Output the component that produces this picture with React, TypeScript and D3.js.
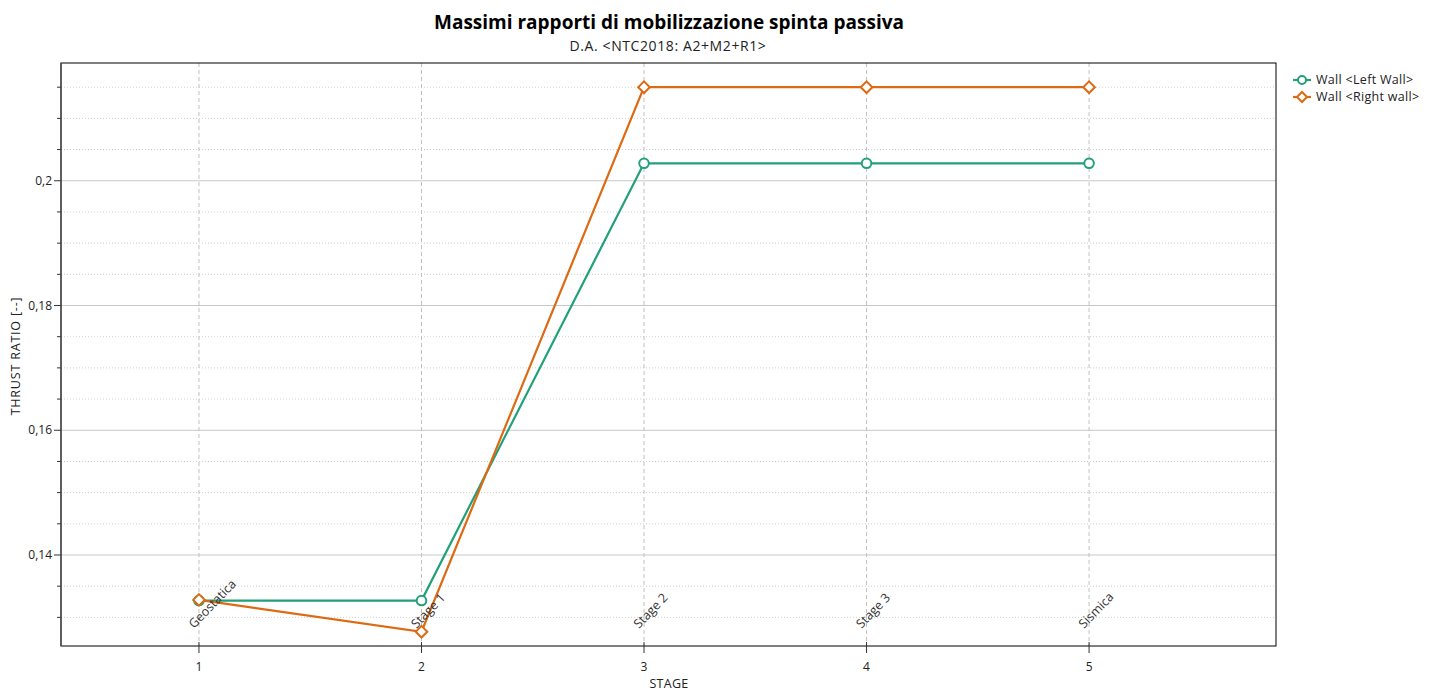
import React from "react";
import * as d3 from "d3";

const xValues = [1, 2, 3, 4, 5];
const stageLabels = ["Geostatica", "Stage 1", "Stage 2", "Stage 3", "Sismica"];
const leftWall = [0.1327, 0.1327, 0.2028, 0.2028, 0.2028];
const rightWall = [0.1328, 0.1277, 0.215, 0.215, 0.215];
const yMajorTicks = [0.14, 0.16, 0.18, 0.2];
const yMinorTicks = [0.13, 0.135, 0.145, 0.15, 0.155, 0.165, 0.17, 0.175, 0.185, 0.19, 0.195, 0.205, 0.21, 0.215];
const seriesNames = ["Wall <Left Wall>", "Wall <Right wall>"];
const colors = ["#22a07a", "#dd6a12"];

const W = 1434, H = 691;
const L = 61, R = 1276, T = 63, B = 646;
const FONT = "'Segoe UI', 'Open Sans', 'Noto Sans', sans-serif";

export default function App() {
  const x = d3.scaleLinear().domain([0.38, 5.84]).range([L, R]);
  const y = d3.scaleLinear().domain([0.12541, 0.21888]).range([B, T]);
  const line = d3.line<number>().x((_, i) => x(xValues[i])).y((d) => y(d));
  const series = [leftWall, rightWall];
  const diamond = (cx: number, cy: number, r: number) =>
    `M${cx},${cy - r}L${cx + r},${cy}L${cx},${cy + r}L${cx - r},${cy}Z`;

  return (
    <svg width={W} height={H} style={{ position: "absolute", left: 0, top: 0, background: "#fff" }} fontFamily={FONT}>
      <rect x={0} y={0} width={W} height={H} fill="#fff" />
      <text x={669} y={29} textAnchor="middle" fontSize={19} fontWeight="bold" fill="#000">
        Massimi rapporti di mobilizzazione spinta passiva
      </text>
      <text x={668} y={51} textAnchor="middle" fontSize={14} letterSpacing={0.6} fill="#222">
        D.A. &lt;NTC2018: A2+M2+R1&gt;
      </text>

      {/* minor grid */}
      {yMinorTicks.map((v) => (
        <line key={"mg" + v} x1={L} x2={R} y1={y(v)} y2={y(v)} stroke="#d0d0d0" strokeDasharray="1,2" />
      ))}
      {yMajorTicks.map((v) => (
        <line key={"g" + v} x1={L} x2={R} y1={y(v)} y2={y(v)} stroke="#c8c8c8" strokeWidth={1} />
      ))}
      {xValues.map((v) => (
        <line key={"vg" + v} x1={x(v)} x2={x(v)} y1={T} y2={B} stroke="#c0c0c0" strokeDasharray="4,3" />
      ))}

      {/* frame */}
      <rect x={L} y={T} width={R - L} height={B - T} fill="none" stroke="#000" strokeWidth={1} />
      <line x1={L} x2={L} y1={T} y2={B} stroke="#555" strokeWidth={1.5} />

      {/* y ticks */}
      {yMajorTicks.map((v) => (
        <g key={"yt" + v}>
          <line x1={L - 7} x2={L} y1={y(v)} y2={y(v)} stroke="#333" />
          <text x={L - 9} y={y(v)} dy="0.35em" textAnchor="end" fontSize={12} fill="#222">
            {String(v).replace(".", ",")}
          </text>
        </g>
      ))}
      {yMinorTicks.map((v) => (
        <line key={"ym" + v} x1={L - 4} x2={L} y1={y(v)} y2={y(v)} stroke="#333" />
      ))}

      {/* x ticks */}
      {xValues.map((v) => (
        <g key={"xt" + v}>
          <line x1={x(v)} x2={x(v)} y1={B - 4} y2={B + 7} stroke="#333" />
          <text x={x(v)} y={B + 25} textAnchor="middle" fontSize={12} fill="#222">
            {v}
          </text>
        </g>
      ))}

      <text x={669} y={688} textAnchor="middle" fontSize={12.5} letterSpacing={0.3} fill="#222">STAGE</text>
      <text transform={`translate(20,${356}) rotate(-90)`} textAnchor="middle" fontSize={12.5} letterSpacing={0.8} fill="#222">
        THRUST RATIO [--]
      </text>

      {/* series */}
      {series.map((s, si) => (
        <path key={"l" + si} d={line(s) || ""} fill="none" stroke={colors[si]} strokeWidth={2.2} />
      ))}
      {leftWall.map((v, i) => (
        <circle key={"c" + i} cx={x(xValues[i])} cy={y(v)} r={4.8} fill="#fff" stroke={colors[0]} strokeWidth={2} />
      ))}
      {rightWall.map((v, i) => (
        <path key={"d" + i} d={diamond(x(xValues[i]), y(v), 5.8)} fill="#fff" stroke={colors[1]} strokeWidth={2} />
      ))}

      {/* stage labels */}
      {stageLabels.map((s, i) => (
        <text key={"sl" + i} transform={`translate(${x(xValues[i]) - 5},${B - 17}) rotate(-46)`} fontSize={12.5} fill="#333">
          {s}
        </text>
      ))}

      {/* legend */}
      {seriesNames.map((n, i) => {
        const ly = 80 + i * 17;
        return (
          <g key={"lg" + i}>
            <line x1={1293} x2={1311} y1={ly} y2={ly} stroke={colors[i]} strokeWidth={2.2} />
            {i === 0 ? (
              <circle cx={1302} cy={ly} r={4} fill="#fff" stroke={colors[i]} strokeWidth={2} />
            ) : (
              <path d={diamond(1302, ly, 5)} fill="#fff" stroke={colors[i]} strokeWidth={2} />
            )}
            <text x={1316} y={ly} dy="0.35em" fontSize={12.5} letterSpacing={0.3} fill="#222">{n}</text>
          </g>
        );
      })}
    </svg>
  );
}
